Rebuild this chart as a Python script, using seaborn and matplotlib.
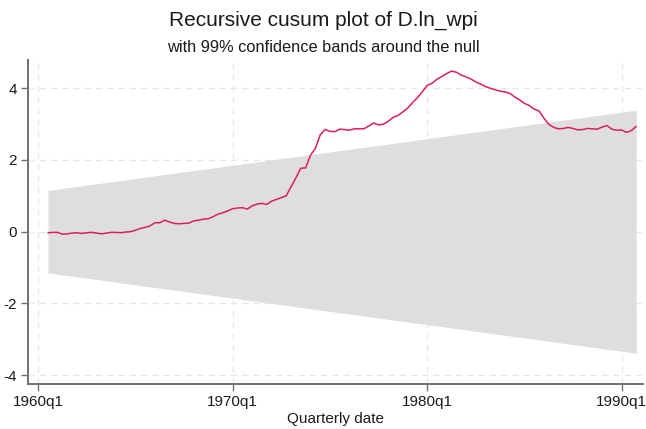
import matplotlib
matplotlib.use("Agg")
import matplotlib.pyplot as plt
import pandas as pd
import seaborn as sns

# Quarters since 1960q1 (first recursive residual is 1960q3, last is 1990q4)
quarters = list(range(2, 124))
cusum = [
    -0.03, -0.02, -0.02, -0.07, -0.06, -0.04, -0.03, -0.05, -0.03, -0.02,
    -0.04, -0.06, -0.04, -0.02, -0.02, -0.03, -0.01, 0.00, 0.04, 0.09,
    0.12, 0.16, 0.25, 0.25, 0.32, 0.27, 0.23, 0.22, 0.23, 0.24,
    0.30, 0.32, 0.35, 0.36, 0.42, 0.49, 0.53, 0.58, 0.64, 0.66,
    0.67, 0.63, 0.72, 0.77, 0.79, 0.76, 0.85, 0.90, 0.95, 1.00,
    1.25, 1.50, 1.77, 1.78, 2.13, 2.32, 2.70, 2.85, 2.80, 2.79,
    2.86, 2.85, 2.83, 2.87, 2.87, 2.87, 2.95, 3.03, 2.98, 3.00,
    3.08, 3.19, 3.24, 3.34, 3.45, 3.60, 3.74, 3.90, 4.08, 4.14,
    4.25, 4.33, 4.41, 4.48, 4.45, 4.37, 4.32, 4.26, 4.18, 4.12,
    4.05, 4.00, 3.96, 3.92, 3.90, 3.86, 3.76, 3.68, 3.58, 3.52,
    3.42, 3.37, 3.17, 3.00, 2.91, 2.87, 2.88, 2.91, 2.88, 2.84,
    2.85, 2.88, 2.87, 2.86, 2.92, 2.96, 2.86, 2.83, 2.84, 2.77,
    2.82, 2.94,
]

# confidence band is a straight line between its end points
band_q = [2, 123]
band_upper = [1.15, 3.39]
band_lower = [-1.15, -3.39]

tick_pos = [0, 40, 80, 120]
tick_labels = ["1960q1", "1970q1", "1980q1", "1990q1"]
ytick_pos = [-4, -2, 0, 2, 4]

df = pd.DataFrame({"q": quarters, "cusum": cusum})

sns.set_style("white")
plt.rcParams["font.family"] = ["Liberation Sans", "DejaVu Sans"]

fig = plt.figure(figsize=(6.46, 4.29), dpi=100)
ax = fig.add_axes([28 / 646, 1 - 384 / 429, 615 / 646, 324 / 429])

ax.fill_between(band_q, band_lower, band_upper, color="#dedede", linewidth=0, zorder=1)
sns.lineplot(data=df, x="q", y="cusum", ax=ax, color="#dc1f5c", linewidth=1.1, zorder=3)

ax.set_xlim(-2.1, 124.4)
ax.set_ylim(-4.25, 4.79)
ax.set_xticks(tick_pos)
ax.set_xticklabels(tick_labels)
ax.set_yticks(ytick_pos)
ax.set_yticklabels([str(v) for v in ytick_pos])

ax.grid(True, color="#e6e6e6", linestyle=(0, (5, 4)), linewidth=0.9, zorder=0)
ax.set_axisbelow(True)

for side in ["top", "right"]:
    ax.spines[side].set_visible(False)
for side in ["left", "bottom"]:
    ax.spines[side].set_color("#707070")
    ax.spines[side].set_linewidth(1.4)

ax.tick_params(axis="both", direction="out", length=5, width=1, color="#707070",
               labelsize=11, labelcolor="#1a1a1a", pad=3, left=True, bottom=True)

ax.set_xlabel("Quarterly date", fontsize=11, color="#1a1a1a", labelpad=2)
ax.set_ylabel("")

fig.text(0.5, 1 - 20 / 429, "Recursive cusum plot of D.ln_wpi",
         ha="center", va="center", fontsize=15, color="#1a1a1a")
fig.text(0.5, 1 - 48 / 429, "with 99% confidence bands around the null",
         ha="center", va="center", fontsize=11.8, color="#1a1a1a")

fig.savefig("out.png", dpi=100)
